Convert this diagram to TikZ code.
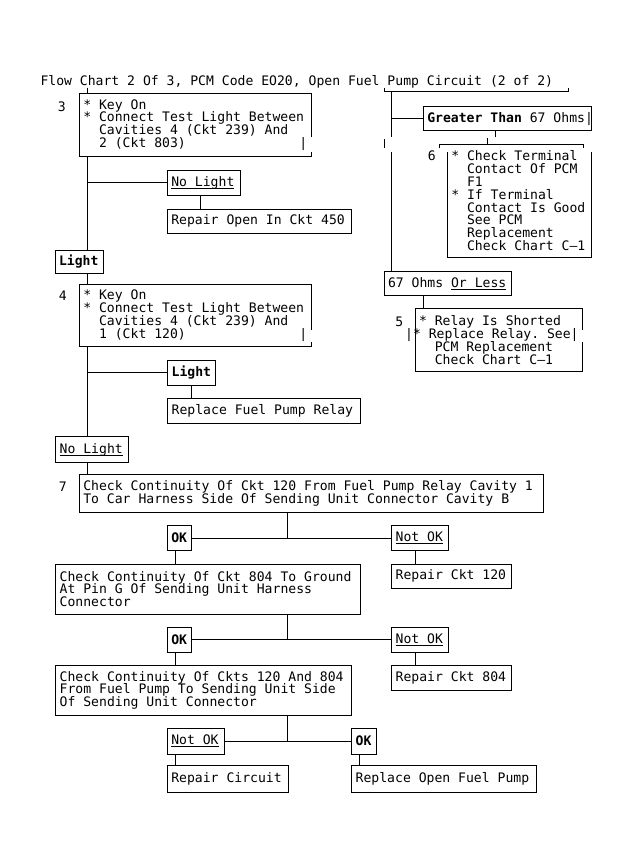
\documentclass[tikz,border=0pt]{standalone}
\usepackage{fontspec}
\newfontfamily\monof{DejaVu Sans Mono}
\newcommand\mainf{\monof\fontsize{13.1}{12.8}\selectfont\lineskiplimit=-30pt\lineskip=0pt}
\newcommand\myul[1]{\setbox0\hbox{#1}\rlap{\rule[-2.2pt]{\wd0}{0.9pt}}\box0}
\newcommand\indt{\hphantom{XX}}
\newcommand\tofar{\hskip 0pt plus 1filll\relax}
\newcommand\bul{{}*}
\begin{document}
\begin{tikzpicture}[x=1pt,y=-1pt,line width=0.9pt,
  every node/.style={inner sep=0pt,outer sep=0pt,font=\mainf,
    execute at begin node={\spaceskip=7.887pt\relax\xspaceskip=7.887pt\relax}},
  boxbase/.style={anchor=north west,inner xsep=4pt,inner ysep=0pt},
  boxdim/.code 2 args={\pgfmathsetmacro\bxtw{#1-8}\edef\bxtmp{\noexpand\tikzset{minimum width=#1pt,text width=\bxtw pt,minimum height=#2pt}}\bxtmp},
  bx/.style 2 args={boxbase,draw,boxdim={#1}{#2}},
  ob/.style 2 args={boxbase,boxdim={#1}{#2}}]
\fill[white] (0,0) rectangle (630,868);
\useasboundingbox (0,0) rectangle (630,868);

% title
\node[anchor=base west] (t) at (40.5,85) {Flow Chart 2 Of 3, PCM Code EO20, Open Fuel Pump Circuit (2 of 2)};

% step labels
\node (l3) at (61.7,106.7) {3};
\node (l4) at (62.7,296) {4};
\node (l7) at (62.7,486.7) {7};
\node (l6) at (431.7,155.7) {6};
\node (l5) at (399.3,321.7) {5};

% left column
\node[ob={232}{63.4}] (b3) at (79.3,93.3) {\bul{} Key On\\\bul{} Connect Test Light Between\\\indt Cavities 4 (Ckt 239) And\\\indt 2 (Ckt 803)\tofar|};
\node[bx={72.7}{25.7}] (nl1) at (167.3,170) {\myul{No Light}};
\node[bx={184.4}{24.3}] (r450) at (167.3,209) {Repair Open In Ckt 450};
\node[bx={48.3}{23.3}] (l1) at (55,250) {\textbf{Light}};
\node[ob={232}{62.4}] (b4) at (79.3,284.3) {\bul{} Key On\\\bul{} Connect Test Light Between\\\indt Cavities 4 (Ckt 239) And\\\indt 1 (Ckt 120)\tofar|};
\node[bx={48}{25.7}] (l2) at (167.7,360) {\textbf{Light}};
\node[bx={192.3}{25}] (rfp) at (167.7,398.3) {Replace Fuel Pump Relay};
\node[bx={72.6}{26}] (nl2) at (55.7,436.7) {\myul{No Light}};
\node[bx={464}{38.3}] (b7) at (79.3,474) {Check Continuity Of Ckt 120 From Fuel Pump Relay Cavity 1\\To Car Harness Side Of Sending Unit Connector Cavity B};
\node[bx={24.4}{25}] (ok1) at (167.3,525.7) {\textbf{OK}};
\node[bx={56.6}{25}] (no1) at (391.7,525.7) {\myul{Not OK}};
\node[bx={304.3}{50}] (c2) at (55.7,564) {Check Continuity Of Ckt 804 To Ground\\At Pin G Of Sending Unit Harness\\Connector};
\node[bx={120}{24.3}] (r120) at (391.7,564) {Repair Ckt 120};
\node[bx={24.4}{25}] (ok2) at (167.3,627.3) {\textbf{OK}};
\node[bx={56.6}{25}] (no2) at (391.7,627.3) {\myul{Not OK}};
\node[bx={296}{49.3}] (c3) at (55.7,665.7) {Check Continuity Of Ckts 120 And 804\\From Fuel Pump To Sending Unit Side\\Of Sending Unit Connector};
\node[bx={120}{24.3}] (r804) at (391.7,665.7) {Repair Ckt 804};
\node[bx={56.7}{25.7}] (no3) at (167.3,728.3) {\myul{Not OK}};
\node[bx={24.3}{25.7}] (ok3) at (351.7,728.3) {\textbf{OK}};
\node[bx={121}{26.6}] (rc) at (167.3,765.7) {Repair Circuit};
\node[bx={185}{26.6}] (rofp) at (351.7,765.7) {Replace Open Fuel Pump};

% right column
\node[bx={168.4}{24}] (gt) at (423.3,106.7) {\textbf{Greater Than} 67 Ohms\rlap{|}};
\node[ob={144.4}{113.7}] (b6) at (447.3,144) {\bul{} Check Terminal\\\indt Contact Of PCM\\\indt F1\\\bul{} If Terminal\\\indt Contact Is Good\\\indt See PCM\\\indt Replacement\\\indt Check Chart C–1};
\node[bx={127.7}{24.7}] (oh) at (384,271) {67 Ohms \myul{Or Less}};
\node[ob={167.7}{63.4}] (b5) at (415,308.3) {\bul{} Relay Is Shorted\\\mbox{\kern-6pt\llap{|}* Replace Relay. See|}\\\indt PCM Replacement\\\indt Check Chart C–1};

% open box borders
\draw ([yshift=-43.4pt]b3.north east) -- (b3.north east) -- (b3.north west) -- (b3.south west) -- (b3.south east) -- ([yshift=5pt]b3.south east);
\draw ([yshift=-45.7pt]b4.north east) -- (b4.north east) -- (b4.north west) -- (b4.south west) -- (b4.south east) -- ([yshift=5pt]b4.south east);
\draw ([yshift=-8.3pt]b6.north west) -- (b6.south west) -- (b6.south east) -- ([yshift=-8.3pt]b6.north east);
\draw ([yshift=-21.7pt]b5.north east) -- (b5.north east) -- (b5.north west) -- (b5.south west) -- (b5.south east) -- ([yshift=30pt]b5.south east);

% left spine
\coordinate (sx) at ([xshift=8.4pt]b3.north west);
\draw (sx |- t.south) -- (sx);
\draw (sx |- b3.south) -- (sx |- l1.north);
\draw (sx |- nl1.west) -- (nl1.west);
\coordinate (c1) at ([xshift=32.7pt]nl1.south west);
\draw (c1) -- (c1 |- r450.north);
\draw (sx |- l1.south) -- (sx |- b4.north);
\draw (sx |- b4.south) -- (sx |- nl2.north);
\draw (sx |- l2.west) -- (l2.west);
\draw (l2.south) -- (l2.south |- rfp.north);
\draw (sx |- nl2.south) -- (sx |- b7.north);

% lower section
\coordinate (mx) at ([xshift=208pt]b7.south west);
\draw (mx) -- (mx |- ok1.east);
\draw (ok1.east) -- (no1.west);
\coordinate (okx) at ([xshift=7.7pt]ok1.south west);
\draw (okx) -- (okx |- c2.north);
\coordinate (nox) at ([xshift=24pt]no1.south west);
\draw (nox) -- (nox |- r120.north);
\draw (mx |- c2.south) -- (mx |- ok2.east);
\draw (ok2.east) -- (no2.west);
\draw (okx |- ok2.south) -- (okx |- c3.north);
\draw (nox |- no2.south) -- (nox |- r804.north);
\draw (mx |- c3.south) -- (mx |- no3.east);
\draw (no3.east) -- (ok3.west);
\draw (okx |- no3.south) -- (okx |- rc.north);
\coordinate (ok3x) at ([xshift=7.6pt]ok3.south west);
\draw (ok3x) -- (ok3x |- rofp.north);

% right spine
\coordinate (brL) at (384,91.7);
\coordinate (brR) at (568.3,91.7);
\draw ([yshift=4pt]brL) -- (brL) -- (brR) -- ([yshift=4pt]brR);
\coordinate (rx) at ([xshift=7.7pt]oh.north west);
\coordinate (g1) at (391.7,136.7);
\coordinate (g2) at (391.7,152.3);
\draw (rx |- brL) -- (g1);
\draw (g2) -- (rx);
\draw (rx |- gt.west) -- (gt.west);
\coordinate (tk1) at (384,139);
\coordinate (tk2) at (384,148.3);
\draw (tk1) -- (tk2);
\coordinate (gj) at (495,136.7);
\draw (gj |- gt.south) -- (gj);
\coordinate (gk1) at (487.3,137.7);
\coordinate (gk2) at (487.3,144);
\draw (gk1) -- (gk2);
\coordinate (bL) at (439.3,144);
\coordinate (bR) at (583.3,144);
\draw ([yshift=-4.3pt]bL) -- (bL) -- (bR) -- ([yshift=-4.3pt]bR);
\coordinate (ox) at ([xshift=39.3pt]oh.south west);
\draw (ox) -- (ox |- b5.north);
\end{tikzpicture}
\end{document}
